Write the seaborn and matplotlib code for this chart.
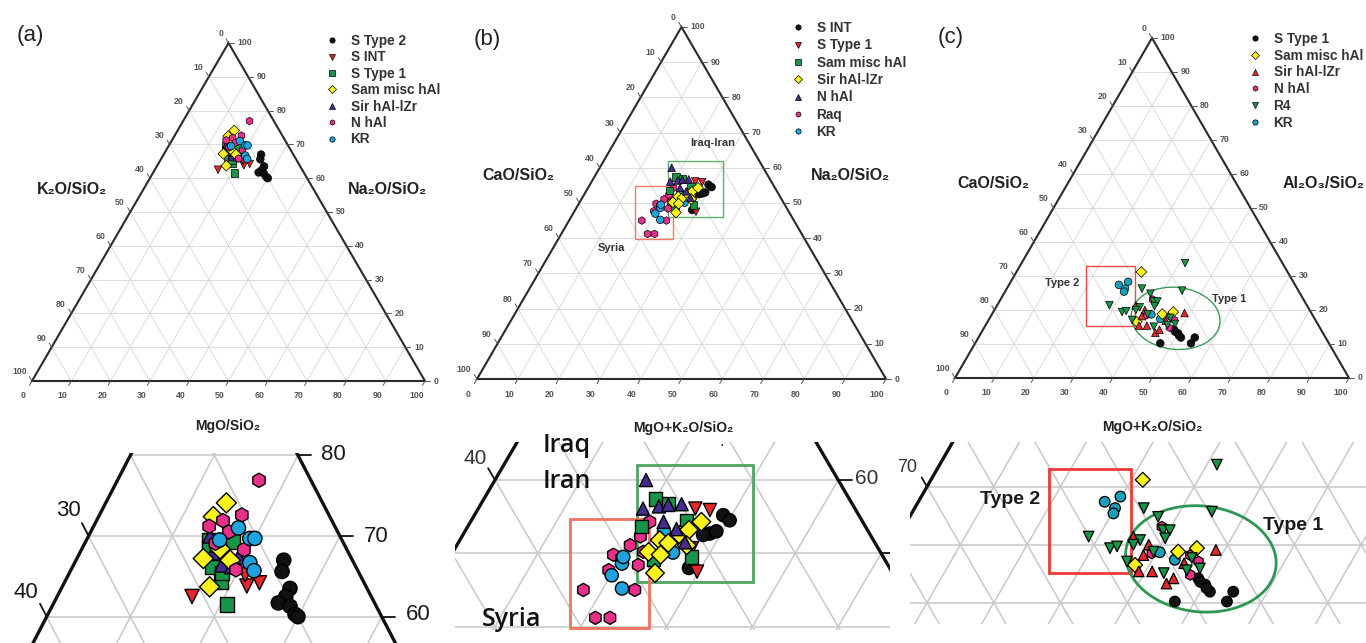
import numpy as np
import pandas as pd
import matplotlib
matplotlib.use('Agg')
import matplotlib.pyplot as plt
import seaborn as sns
from matplotlib.collections import LineCollection
from matplotlib.patches import Polygon, Rectangle, Ellipse

# ---------------- data: ternary percentages (bottom axis / top-right axis) ----------------
# panel (a): MgO/SiO2 (bottom), Na2O/SiO2 (right)
a_stype2_mgo = [24.8, 25.3, 27.3, 27.3, 26.8, 28.4, 29.5, 30.0]
a_stype2_na = [67.0, 65.6, 63.5, 62.5, 61.7, 61.3, 60.3, 60.0]
a_sint_mgo = [16.1, 22.0, 23.3, 21.1]
a_sint_na = [62.5, 63.8, 64.2, 65.2]
a_stype1_mgo = [20.8, 18.7, 14.6, 15.1, 16.6, 17.6, 18.2]
a_stype1_na = [61.5, 64.3, 69.5, 68.5, 66.2, 69.3, 65.4]
a_sam_mgo = [14.4, 13.7, 15.1, 17.6, 16.5, 18.4]
a_sam_na = [74.1, 72.4, 67.2, 63.7, 68.4, 67.0]
a_sir_mgo = [14.5, 15.9, 17.7, 19.0, 19.2, 15.9]
a_sir_na = [70.0, 67.9, 66.4, 66.2, 67.4, 68.9]
a_nhal_mgo = [16.9, 17.0, 15.1, 13.8, 16.5, 19.4, 19.7, 15.6]
a_nhal_na = [76.9, 72.6, 71.9, 71.2, 70.5, 68.3, 65.8, 69.1]
a_kr_mgo = [17.4, 19.4, 20.0, 15.9, 20.9, 21.9]
a_kr_na = [71.0, 69.7, 69.7, 69.5, 66.7, 65.7]

# panel (b): MgO+K2O/SiO2 (bottom), Na2O/SiO2 (right)
b_sint_bot = [29.0, 30.1, 28.7, 29.3, 28.0, 28.6]
b_sint_na = [55.2, 54.5, 52.7, 53.0, 52.5, 48.0]
b_stype1_bot = [25.3, 27.1, 27.6, 29.8]
b_stype1_na = [56.1, 55.9, 50.7, 47.5]
b_sam_bot = [20.0, 21.8, 25.1, 28.2, 20.3, 23.9]
b_sam_na = [57.4, 56.8, 54.5, 49.5, 53.6, 49.1]
b_sir_bot = [25.0, 22.8, 23.3, 24.5, 24.4, 25.3, 26.0, 26.9, 26.8]
b_sir_na = [47.3, 50.2, 51.8, 51.4, 49.8, 52.5, 53.2, 54.3, 51.1]
b_nhal_bot = [17.6, 19.2, 20.9, 21.9, 23.4, 22.5, 24.5, 26.4]
b_nhal_na = [60.0, 56.1, 56.4, 56.6, 56.7, 54.3, 53.3, 51.5]
b_raq_bot = [17.8, 21.1, 22.8, 23.8, 18.9, 19.4, 20.2, 20.8, 20.9, 22.5, 20.1, 22.2]
b_raq_na = [45.0, 41.2, 41.2, 45.0, 49.8, 47.7, 51.1, 52.3, 54.3, 48.4, 49.3, 50.2]
b_kr_bot = [22.2, 20.1, 20.5, 20.2, 23.2, 25.7]
b_kr_na = [45.2, 47.0, 48.6, 49.5, 53.0, 50.1]

# panel (c): MgO+K2O/SiO2 (bottom), Al2O3/SiO2 (right)
c_stype1_bot = [47.0, 54.8, 54.9, 51.4, 50.1, 48.5, 49.1, 50.6]
c_stype1_al = [10.2, 10.2, 11.9, 11.9, 13.1, 14.2, 13.6, 12.5]
c_sam_bot = [31.7, 45.7, 37.9, 43.2]
c_sam_al = [31.2, 19.4, 16.5, 18.8]
c_sir_bot = [48.7, 35.2, 38.2, 39.0, 41.0, 44.2, 44.8, 45.1, 38.3]
c_sir_al = [19.1, 21.4, 20.0, 15.4, 15.4, 13.3, 14.2, 16.8, 18.2]
c_nhal_bot = [38.6, 39.4, 45.3, 47.0, 47.1]
c_nhal_al = [23.1, 18.5, 18.2, 14.8, 17.1]
c_r4_bot = [41.5, 34.3, 37.2, 44.8, 28.5, 32.7, 33.6, 36.4, 36.5, 39.1, 40.1, 40.1, 39.5, 42.9,
            46.1, 47.9, 45.8, 35.9]
c_r4_al = [33.8, 26.3, 24.8, 25.7, 21.4, 19.4, 19.7, 17.1, 20.8, 22.5, 22.5, 21.1, 18.8, 15.1,
           15.6, 15.9, 17.7, 20.0]
c_kr_bot = [27.9, 29.8, 30.0, 30.2, 40.5, 43.4]
c_kr_al = [27.4, 28.3, 26.3, 25.4, 18.7, 17.4]

# annotation regions (cartesian ternary x range, top-axis % range)
iraq_box = (46.6, 60.1, 46.1, 62.0)
syria_box = (38.7, 48.0, 39.8, 54.7)
type2_box = (33.2, 45.6, 15.2, 33.0)
type1_ell = (56.0, 15.2, 22.6, 15.8, -6)

BLACK, RED, GREEN, YELLOW = '#111111', '#e5262a', '#179548', '#f9f21b'
PURPLE, PINK, BLUE, TEAL = '#472c8f', '#ea2f8b', '#1fa3de', '#1aa0b9'

order_a = ['S Type 2', 'S INT', 'S Type 1', 'Sam misc hAl', 'Sir hAl-lZr', 'N hAl', 'KR']
pal_a = dict(zip(order_a, [BLACK, RED, GREEN, YELLOW, PURPLE, PINK, BLUE]))
mk_a = dict(zip(order_a, ['o', 'v', 's', 'D', '^', 'h', 'o']))
order_b = ['S INT', 'S Type 1', 'Sam misc hAl', 'Sir hAl-lZr', 'N hAl', 'Raq', 'KR']
pal_b = dict(zip(order_b, [BLACK, RED, GREEN, YELLOW, PURPLE, PINK, BLUE]))
mk_b = dict(zip(order_b, ['o', 'v', 's', 'D', '^', 'h', 'o']))
order_c = ['S Type 1', 'Sam misc hAl', 'Sir hAl-lZr', 'N hAl', 'R4', 'KR']
pal_c = dict(zip(order_c, [BLACK, YELLOW, RED, PINK, GREEN, TEAL]))
mk_c = dict(zip(order_c, ['o', 'D', '^', 'h', 'v', 'o']))

# drawing order (z) of the groups
series_a = [('S Type 1', a_stype1_mgo, a_stype1_na), ('Sir hAl-lZr', a_sir_mgo, a_sir_na),
            ('Sam misc hAl', a_sam_mgo, a_sam_na), ('S INT', a_sint_mgo, a_sint_na),
            ('N hAl', a_nhal_mgo, a_nhal_na), ('KR', a_kr_mgo, a_kr_na),
            ('S Type 2', a_stype2_mgo, a_stype2_na)]
series_b = [('Raq', b_raq_bot, b_raq_na), ('KR', b_kr_bot, b_kr_na),
            ('S INT', b_sint_bot, b_sint_na), ('S Type 1', b_stype1_bot, b_stype1_na),
            ('Sam misc hAl', b_sam_bot, b_sam_na), ('Sir hAl-lZr', b_sir_bot, b_sir_na),
            ('N hAl', b_nhal_bot, b_nhal_na)]
series_c = [('S Type 1', c_stype1_bot, c_stype1_al), ('N hAl', c_nhal_bot, c_nhal_al),
            ('KR', c_kr_bot, c_kr_al), ('Sam misc hAl', c_sam_bot, c_sam_al),
            ('Sir hAl-lZr', c_sir_bot, c_sir_al), ('R4', c_r4_bot, c_r4_al)]

W, H = 1366, 643
S3 = np.sqrt(3) / 2

sns.set_style('white')
plt.rcParams['font.family'] = ['Liberation Sans', 'DejaVu Sans']

fig = plt.figure(figsize=(W / 100, H / 100), dpi=100)


def tern_xy(bot, top):
    bot = np.asarray(bot, float)
    top = np.asarray(top, float)
    return bot + top / 2.0, top * S3


def make_df(series):
    parts = []
    for name, bot, top in series:
        x, y = tern_xy(bot, top)
        parts.append(pd.DataFrame({'x': x, 'y': y, 'group': name}))
    return pd.concat(parts, ignore_index=True)


def add_ax(box, ox, sx, oy, sy):
    x0, y0, x1, y1 = box
    ax = fig.add_axes([x0 / W, 1 - y1 / H, (x1 - x0) / W, (y1 - y0) / H])
    lims = ((x0 - ox) / sx, (x1 - ox) / sx), ((oy - y1) / sy, (oy - y0) / sy)
    return ax, lims


def finish(ax, lims):
    ax.set_xlim(*lims[0])
    ax.set_ylim(*lims[1])
    ax.set_axis_off()


def draw_triangle(ax, grid_c, grid_lw, edge_c, edge_lw):
    segs = []
    for v in range(10, 100, 10):
        segs.append([(v / 2, v * S3), (100 - v / 2, v * S3)])
        segs.append([(v, 0), (50 + v / 2, (100 - v) * S3)])
        segs.append([(100 - v, 0), ((100 - v) / 2, (100 - v) * S3)])
    ax.add_collection(LineCollection(segs, colors=grid_c, linewidths=grid_lw, zorder=0.5))
    ax.add_patch(Polygon([(0, 0), (100, 0), (50, 100 * S3)], closed=True, fill=False,
                         ec=edge_c, lw=edge_lw, zorder=2, joinstyle='miter'))


def main_ticks(ax):
    L = 1.3
    kw = dict(fontsize=6.3, color='#555555', fontweight='bold', clip_on=False)
    for v in range(0, 101, 10):
        p = np.array([v, 0.0]); d = np.array([-0.5, -S3])
        ax.plot(*zip(p, p + L * d), color='#555555', lw=0.7, clip_on=False)
        ax.text(*(p + 4.3 * d), str(v), ha='center', va='center', **kw)
        na = 100 - v
        p = np.array([na / 2, na * S3]); d = np.array([-0.5, S3])
        ax.plot(*zip(p, p + L * d), color='#555555', lw=0.7, clip_on=False)
        ax.text(*(p + 2.7 * d), str(v), ha='right', va='center', **kw)
        p = np.array([100 - v / 2, v * S3]); d = np.array([1.0, 0.0])
        ax.plot(*zip(p, p + L * d), color='#555555', lw=0.7, clip_on=False)
        ax.text(*(p + 2.2 * d), str(v), ha='left', va='center', **kw)


def points(ax, series, order, pal, mk, s, lw, legend):
    df = make_df(series)
    sns.scatterplot(data=df, x='x', y='y', hue='group', style='group', hue_order=order,
                    style_order=order, palette=pal, markers=mk, s=s, edgecolor='black',
                    linewidth=lw, ax=ax, legend=legend, zorder=3)


def place_legend(ax, x0, y0, spacing):
    sns.move_legend(ax, 'upper left', bbox_to_anchor=(x0 / W, 1 - y0 / H),
                    bbox_transform=fig.transFigure, frameon=False, title=None,
                    prop={'weight': 'bold', 'size': 9.8}, labelspacing=spacing,
                    handlelength=0.8, handletextpad=0.97, borderpad=0, borderaxespad=0,
                    markerscale=0.7, labelcolor='#333333')


def ftext(x, y, s, **kw):
    fig.text(x / W, 1 - y / H, s, ha=kw.pop('ha', 'center'), va=kw.pop('va', 'center'), **kw)


def box_patch(ax, box, color, lw):
    x0, x1, t0, t1 = box
    ax.add_patch(Rectangle((x0, t0 * S3), x1 - x0, (t1 - t0) * S3, fill=False, ec=color,
                           lw=lw, zorder=1.5))


def ell_patch(ax, ell, color, lw):
    cx, cy, w, h, ang = ell
    ax.add_patch(Ellipse((cx, cy), w, h, angle=ang, fill=False, ec=color, lw=lw, zorder=1.5))


GRID_M, GRID_Z = '#d6d6d6', '#c8c8c8'

# ---------------- top ternary panels ----------------
main_geo = [((0, 0, 455, 440), 32, 3.93, 381, 3.903),
            ((455, 0, 910, 440), 477, 4.09, 379, 4.065),
            ((910, 0, 1366, 440), 955, 3.94, 378, 3.926)]
configs = [(series_a, order_a, pal_a, mk_a, (326.5, 34, 0.175)),
           (series_b, order_b, pal_b, mk_b, (792.5, 21, 0.245)),
           (series_c, order_c, pal_c, mk_c, (1249.5, 32, 0.2))]

main_axes = []
for geo, (ser, order, pal, mk, leg) in zip(main_geo, configs):
    ax, lims = add_ax(*geo)
    draw_triangle(ax, GRID_M, 0.6, '#2a2a2a', 1.5)
    main_ticks(ax)
    points(ax, ser, order, pal, mk, 30, 0.5, 'full')
    place_legend(ax, leg[0], leg[1], leg[2])
    main_axes.append((ax, lims))

ax_b = main_axes[1][0]
box_patch(ax_b, iraq_box, '#5fae6e', 1.0)
box_patch(ax_b, syria_box, '#f27b68', 1.0)
ax_c = main_axes[2][0]
box_patch(ax_c, type2_box, '#ee4a45', 1.0)
ell_patch(ax_c, type1_ell, '#3c9c5c', 1.0)
for ax, lims in main_axes:
    finish(ax, lims)

# ---------------- zoomed insets ----------------
zoom_geo = [((0, 453, 455, 643), -204.55, 8.375, 1100.9, 9.319),
            ((455, 442, 890, 630), 237.6, 8.58, 919.8, 8.464),
            ((910, 442, 1366, 624), 826.8, 6.68, 660.7, 6.697)]
zoom_sizes = [(105, 1.0), (90, 1.0), (58, 0.9)]

zoom_axes = []
for geo, (ser, order, pal, mk, _), (s, lw) in zip(zoom_geo, configs, zoom_sizes):
    ax, lims = add_ax(*geo)
    draw_triangle(ax, GRID_Z, 1.1, '#111111', 2.4)
    points(ax, ser, order, pal, mk, s, lw, False)
    zoom_axes.append((ax, lims))


def zoom_tick(ax, na, side, L=1.6):
    if side == 'right':
        p = np.array([100 - na / 2, na * S3]); d = np.array([1.0, 0.0])
    else:
        p = np.array([na / 2, na * S3]); d = np.array([-0.5, S3])
    ax.plot(*zip(p, p + L * d), color='#111111', lw=1.3, zorder=2)


za, zb, zc = [z[0] for z in zoom_axes]
for na in (60, 70, 80):
    zoom_tick(za, na, 'right')
for na in (60, 70):
    zoom_tick(za, na, 'left')
zoom_tick(zb, 60, 'left')
zoom_tick(zb, 60, 'right')
zoom_tick(zb, 50, 'right')
zoom_tick(zc, 30, 'left')

box_patch(zb, iraq_box, '#4fa462', 2.0)
box_patch(zb, syria_box, '#f0735d', 2.0)
box_patch(zc, type2_box, '#ec3a35', 2.0)
ell_patch(zc, type1_ell, '#2f9552', 2.0)
for ax, lims in zoom_axes:
    finish(ax, lims)

# ---------------- texts ----------------
ftext(30, 35, '(a)', fontsize=16, color='#222222')
ftext(487, 40, '(b)', fontsize=16, color='#222222')
ftext(951, 37, '(c)', fontsize=16, color='#222222')

title_kw = dict(fontsize=11.5, fontweight='bold', color='#222222')
ftext(72, 190, 'K₂O/SiO₂', **title_kw)
ftext(387, 190, 'Na₂O/SiO₂', **title_kw)
ftext(518, 175, 'CaO/SiO₂', **title_kw)
ftext(850, 175, 'Na₂O/SiO₂', **title_kw)
ftext(993, 183, 'CaO/SiO₂', **title_kw)
ftext(1324, 183, 'Al₂O₃/SiO₂', **title_kw)

bot_kw = dict(fontsize=10, fontweight='bold', color='#222222')
ftext(228, 426, 'MgO/SiO₂', **bot_kw)
ftext(683, 428, 'MgO+K₂O/SiO₂', **bot_kw)
ftext(1152, 427, 'MgO+K₂O/SiO₂', **bot_kw)

ann_kw = dict(fontsize=8, fontweight='bold', color='#333333')
ftext(713, 143, 'Iraq-Iran', **ann_kw)
ftext(611, 248, 'Syria', **ann_kw)
ftext(1062, 283, 'Type 2', **ann_kw)
ftext(1229, 299, 'Type 1', **ann_kw)

zl = dict(fontsize=16, color='#1a1a1a')
ftext(333, 455, '80', **zl)
ftext(376, 536, '70', **zl)
ftext(418, 615, '60', **zl)
ftext(68, 511, '30', **zl)
ftext(26, 592, '40', **zl)
ftext(475, 458, '40', fontsize=15, color='#333333')
ftext(867, 479, '60', fontsize=15, color='#333333')
ftext(907, 468, '70', fontsize=13, color='#333333')

big = dict(fontsize=18, color='#111111', fontweight='semibold', family=['Open Sans', 'DejaVu Sans'])
ftext(567, 446, 'Iraq', **big)
ftext(567, 482, 'Iran', **big)
ftext(512, 619, 'Syria', **big)
ftext(722, 441, '.', fontsize=12, color='#222222')

typ = dict(fontsize=14, fontweight='bold', color='#1a1a1a')
ftext(1010, 500, 'Type 2', **typ)
ftext(1293, 526, 'Type 1', **typ)

fig.savefig('out.png', dpi=100)
